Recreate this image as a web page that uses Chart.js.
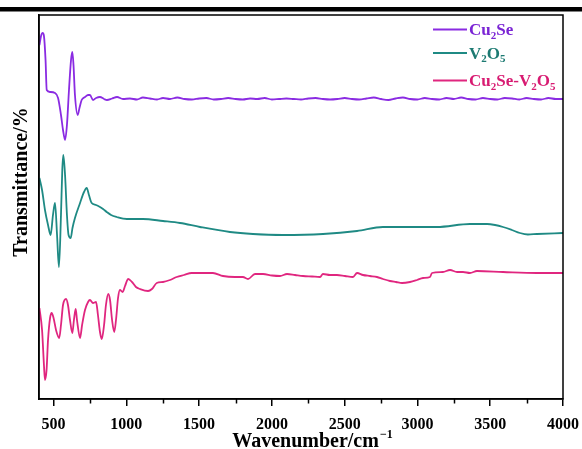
<!DOCTYPE html>
<html>
<head>
<meta charset="utf-8">
<script src="https://cdn.jsdelivr.net/npm/chart.js@4"></script>
<style>
  html, body { margin: 0; padding: 0; background: #fff; }
  #wrap { width: 582px; height: 449px; }
</style>
</head>
<body>
<div id="wrap"><canvas id="myChart" width="582" height="449"></canvas></div>
<script>
// tick labels
const xTicks = [500, 1000, 1500, 2000, 2500, 3000, 3500, 4000];
const xMinor = [750, 1250, 1750, 2250, 2750, 3250, 3750];

// Cu2Se
const cu2seX = [403, 414, 425, 434, 445, 453, 476, 510, 531, 551, 565, 579, 592, 606, 620, 629, 637, 647, 666, 678, 693, 716, 737, 750, 771, 792, 819, 847, 867, 902, 936, 977, 1025, 1073, 1114, 1162, 1211, 1252,
  1300, 1350, 1400, 1450, 1500, 1550, 1600, 1650, 1700, 1750, 1800, 1850, 1900, 1950, 2000, 2050, 2100, 2150, 2200, 2250, 2300, 2350, 2400, 2450, 2500, 2550, 2600, 2650, 2700, 2750, 2800, 2850, 2900, 2950, 3000, 3050, 3100, 3150, 3200, 3250, 3300, 3350, 3400, 3450, 3500, 3550, 3600, 3650, 3700, 3750, 3800, 3850, 3900, 3950, 4000];
const cu2seY = [354, 363, 366, 363, 339, 309, 307, 306, 301, 284, 269, 259, 274, 309, 339, 347, 334, 304, 284, 291, 299, 302, 304, 304, 299, 301, 302, 300, 299, 300.5, 302, 300, 300.5, 299.5, 301.5, 300.5, 299.5, 301,
  300, 301.5, 300, 299.5, 300.5, 301, 299.5, 300, 301, 300, 299.5, 300.5, 300, 301, 299.5, 300, 300.5, 300, 299.5, 300.5, 301, 300, 299.5, 300, 301, 300, 299.5, 300.5, 301.5, 300, 299, 300.5, 301.5, 300, 299.5, 301, 300, 299.5, 301, 300, 301.5, 300, 299.5, 301, 300, 299.5, 301, 300.5, 299.5, 301, 300, 299.5, 301, 300, 300];

// V2O5
const v2o5X = [403, 421, 441, 462, 480, 496, 510, 524, 537, 551, 560, 567, 579, 592, 603, 618, 630, 647, 682, 709, 728, 743, 762, 792, 819, 840, 865, 895, 934, 1003, 1114, 1252, 1369, 1506, 1712, 1870, 2076, 2351, 2585, 2763, 2949, 3134, 3361, 3478, 3533, 3588, 3649, 3704, 3759, 3821, 4000];
const v2o5Y = [221, 209, 189, 174, 164, 184, 196, 164, 132, 184, 229, 244, 224, 184, 164, 161, 171, 181, 196, 207, 211, 204, 196, 194, 192, 190, 187, 184, 182, 180, 180, 178, 176, 172, 167, 165, 164, 165, 168, 172, 172, 172, 175, 175, 174, 172, 169, 166, 164.5, 165, 166];

// Cu2Se-V2O5
const compX = [403, 421, 434, 441, 452, 462, 476, 487, 500, 517, 539, 551, 565, 586, 599, 613, 629, 640, 652, 661, 682, 696, 716, 737, 750, 771, 792, 805, 819, 831, 847, 860, 876, 888, 902, 917, 929, 943, 956, 975, 991, 1013, 1039, 1066, 1094, 1149, 1176, 1209, 1252, 1300, 1346, 1396, 1449, 1506, 1595, 1664, 1746, 1801, 1836, 1884, 1939, 2001, 2056, 2104, 2159, 2214, 2276, 2331, 2351, 2399, 2447, 2502, 2557, 2585, 2626, 2674, 2722, 2763, 2811, 2853, 2894, 2949, 2997, 3038, 3086, 3100, 3175, 3224, 3272, 3313, 3361, 3409, 3588, 3821, 4000];
const compY = [91, 69, 34, 19, 29, 59, 81, 86, 81, 69, 61, 74, 94, 100, 94, 79, 66, 79, 90, 79, 61, 74, 89, 97, 99, 96, 97, 84, 67, 60, 74, 94, 105, 99, 79, 67, 79, 101, 109, 107, 113, 120, 117, 112, 110, 108, 110, 116, 117, 119, 122, 124, 126, 126, 126, 123, 122, 122, 120, 125, 125, 123.5, 123, 125, 124, 123, 122.5, 122, 125, 124, 124, 123, 122, 126, 124, 123, 122, 120, 118, 117, 116, 117, 119, 121, 122, 126, 127, 129, 127, 127, 126, 128, 127, 126, 126];

const seriesNames = ['Cu2Se', 'V2O5', 'Cu2Se-V2O5'];
const lineColors = ['#8a2be2', '#1f8a84', '#e0267f'];
const textColors = ['#7a24d4', '#1c7a72', '#d81b72'];

const toPts = (xs, ys) => xs.map((x, i) => ({ x: x, y: ys[i] }));

const serif = "'Liberation Serif', 'Times New Roman', serif";

const decor = {
  id: 'decor',
  afterDraw(chart) {
    const ctx = chart.ctx;
    const a = chart.chartArea;
    const xs = chart.scales.x;
    ctx.save();
    // page rule above the figure
    ctx.fillStyle = '#000';
    ctx.fillRect(0, 7, 582, 4.5);
    // frame
    ctx.strokeStyle = '#000';
    ctx.lineWidth = 1.5;
    ctx.strokeRect(a.left, a.top, a.right - a.left, a.bottom - a.top);
    // minor ticks
    xMinor.forEach(v => {
      const px = Math.round(xs.getPixelForValue(v)) + 0.5;
      ctx.beginPath();
      ctx.moveTo(px, a.bottom);
      ctx.lineTo(px, a.bottom + 4.5);
      ctx.stroke();
    });
    // axis titles
    ctx.fillStyle = '#000';
    ctx.textBaseline = 'alphabetic';
    ctx.font = 'bold 20px ' + serif;
    const main = 'Wavenumber/cm';
    const w1 = ctx.measureText(main).width;
    ctx.font = 'bold 12px ' + serif;
    const sup = '\u22121';
    const w2 = ctx.measureText(sup).width;
    let tx = 312 - (w1 + w2) / 2;
    ctx.font = 'bold 20px ' + serif;
    ctx.textAlign = 'left';
    ctx.fillText(main, tx, 447);
    ctx.font = 'bold 12px ' + serif;
    ctx.fillText(sup, tx + w1 + 1, 438);

    ctx.save();
    ctx.translate(27, 182);
    ctx.rotate(-Math.PI / 2);
    ctx.font = 'bold 20px ' + serif;
    ctx.textAlign = 'center';
    ctx.fillText('Transmittance/%', 0, 0);
    ctx.restore();

    // legend
    const legendParts = [
      [['Cu', 0], ['2', 1], ['Se', 0]],
      [['V', 0], ['2', 1], ['O', 0], ['5', 1]],
      [['Cu', 0], ['2', 1], ['Se-V', 0], ['2', 1], ['O', 0], ['5', 1]]
    ];
    const legendY = [29.5, 53, 80.5];
    legendParts.forEach((parts, i) => {
      const y = legendY[i];
      ctx.strokeStyle = lineColors[i];
      ctx.lineWidth = 2;
      ctx.beginPath();
      ctx.moveTo(433, y);
      ctx.lineTo(467, y);
      ctx.stroke();
      ctx.fillStyle = textColors[i];
      ctx.textAlign = 'left';
      let x = 469;
      parts.forEach(([t, sub]) => {
        ctx.font = sub ? 'bold 11px ' + serif : 'bold 17px ' + serif;
        ctx.fillText(t, x, sub ? y + 9 : y + 5.5);
        x += ctx.measureText(t).width;
      });
    });
    ctx.restore();
  }
};

const canvas = document.getElementById('myChart').getContext('2d');
const myChart = new Chart(canvas, {
  type: 'line',
  data: {
    datasets: [
      { label: seriesNames[0], data: toPts(cu2seX, cu2seY), borderColor: lineColors[0] },
      { label: seriesNames[1], data: toPts(v2o5X, v2o5Y), borderColor: lineColors[1] },
      { label: seriesNames[2], data: toPts(compX, compY), borderColor: lineColors[2] }
    ]
  },
  options: {
    responsive: false,
    animation: false,
    layout: { padding: { top: 15, right: 19, left: 0, bottom: 0 } },
    elements: {
      point: { radius: 0 },
      line: { borderWidth: 1.8, cubicInterpolationMode: 'monotone', fill: false }
    },
    plugins: {
      legend: { display: false },
      tooltip: { enabled: false }
    },
    scales: {
      x: {
        type: 'linear',
        min: 400,
        max: 4000,
        afterBuildTicks: s => { s.ticks = xTicks.map(v => ({ value: v })); },
        afterFit: s => { s.height = 50; s.paddingLeft = 0; s.paddingRight = 0; },
        grid: { display: true, drawOnChartArea: false, drawTicks: true, tickLength: 7, color: '#000', lineWidth: 1.5 },
        border: { display: true, color: '#000', width: 1.5 },
        ticks: {
          color: '#000',
          maxRotation: 0,
          autoSkip: false,
          padding: 9,
          callback: v => String(v),
          font: { family: serif, size: 16, weight: 'bold' }
        }
      },
      y: {
        min: 0,
        max: 384,
        afterFit: s => { s.width = 39; },
        grid: { display: false },
        border: { display: true, color: '#000', width: 1.5 },
        ticks: { display: false }
      }
    }
  },
  plugins: [decor]
});
</script>
</body>
</html>
